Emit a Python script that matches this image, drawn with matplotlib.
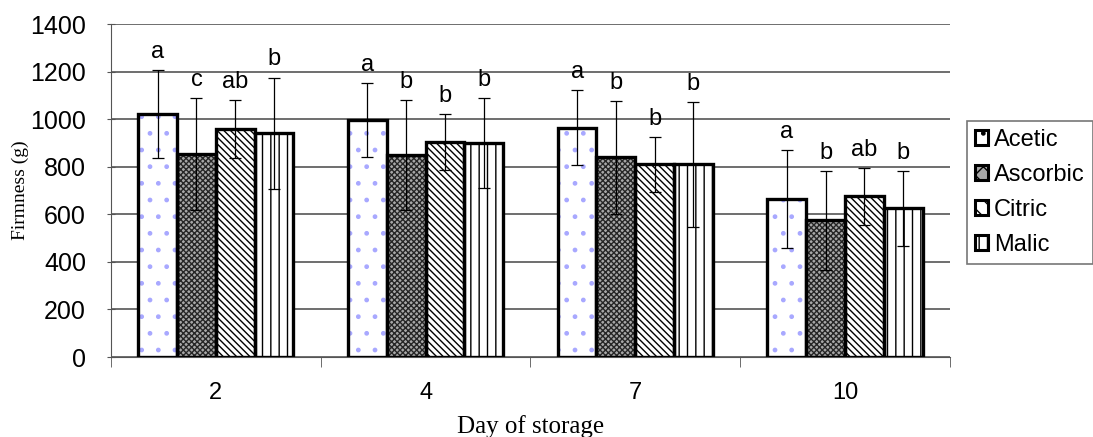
import numpy as np
import matplotlib
matplotlib.use('Agg')
from matplotlib import pyplot as plt

days = ['2', '4', '7', '10']
acids = ['Acetic', 'Ascorbic', 'Citric', 'Malic']

# firmness (g) per acid, one value per day
acetic = [1020, 995, 965, 665]
ascorbic = [855, 850, 840, 575]
citric = [960, 905, 810, 675]
malic = [940, 900, 810, 625]

# standard deviations
acetic_err = [185, 155, 158, 205]
ascorbic_err = [235, 232, 237, 208]
citric_err = [122, 118, 115, 118]
malic_err = [235, 190, 262, 158]

# significance letters
acetic_lbl = ['a', 'a', 'a', 'a']
ascorbic_lbl = ['c', 'b', 'b', 'b']
citric_lbl = ['ab', 'b', 'b', 'ab']
malic_lbl = ['b', 'b', 'b', 'b']

values = [acetic, ascorbic, citric, malic]
errors = [acetic_err, ascorbic_err, citric_err, malic_err]
letters = [acetic_lbl, ascorbic_lbl, citric_lbl, malic_lbl]

faces = ['white', '#a8a8a8', 'white', 'white']
hatches = ['.', 'xxxxxx', '\\' * 5, '||']
hatch_cols = ['#a8a8ff', '#262626', 'black', 'black']

plt.rcParams['font.family'] = ['Liberation Sans', 'DejaVu Sans']
plt.rcParams['hatch.linewidth'] = 1.0

fig = plt.figure(figsize=(10.93, 4.37), dpi=100)
ax = fig.add_axes([0.1016, 0.183, 0.7674, 0.762])

x = np.arange(len(days))
w = 0.185
for i in range(4):
    pos = x + (i - 1.5) * w
    # hatch layer first, then the thick black outline
    ax.bar(pos, values[i], w, color=faces[i], edgecolor=hatch_cols[i],
           hatch=hatches[i], linewidth=0, zorder=2)
    ax.bar(pos, values[i], w, fill=False, edgecolor='black', linewidth=2.4,
           zorder=3, label=acids[i])
    ax.errorbar(pos, values[i], yerr=errors[i], fmt='none', ecolor='black',
                elinewidth=0.9, capsize=4.5, capthick=0.9, zorder=4)
    for j in range(len(days)):
        ax.text(pos[j], values[i][j] + errors[i][j] + 30, letters[i][j],
                ha='center', va='bottom', fontsize=17)

ax.set_xlim(-0.5, 3.5)
ax.set_ylim(0, 1400)
ax.set_yticks(range(0, 1401, 200))
ax.set_xticks(x)
ax.set_xticklabels(days)
ax.set_xticks(np.arange(-0.5, 3.6, 1), minor=True)
ax.tick_params(axis='x', which='major', length=0, pad=18, labelsize=17)
ax.tick_params(axis='x', which='minor', length=7, direction='out', color='#555555')
ax.tick_params(axis='y', length=6, direction='inout', labelsize=18, color='#555555', pad=15)
ax.yaxis.grid(True, color='#555555', linewidth=1.2, zorder=0)
ax.set_axisbelow(True)
for s in ['top', 'right']:
    ax.spines[s].set_visible(False)
ax.spines['left'].set_color('#555555')
ax.spines['bottom'].set_color('#555555')

ax.set_ylabel('Firmness (g)', family='Liberation Serif', fontsize=14, labelpad=1)
ax.set_xlabel('Day of storage', family='Liberation Serif', fontsize=18, labelpad=8)

leg = ax.legend(loc='upper left', bbox_to_anchor=(1.02, 0.71), fontsize=17,
                frameon=True, fancybox=False, edgecolor='#555555',
                handlelength=0.55, handleheight=0.55, handletextpad=0.25,
                borderpad=0.35, labelspacing=0.55, borderaxespad=0)
leg.get_frame().set_linewidth(1.2)
# legend patches: show the hatch too
for h, i in zip(leg.legend_handles, range(4)):
    h.set_facecolor(faces[i])
    h.set_hatch(hatches[i][:2])
    h.set_fill(True)
    h.set_linewidth(2.2)

fig.savefig('out.png', dpi=100)
